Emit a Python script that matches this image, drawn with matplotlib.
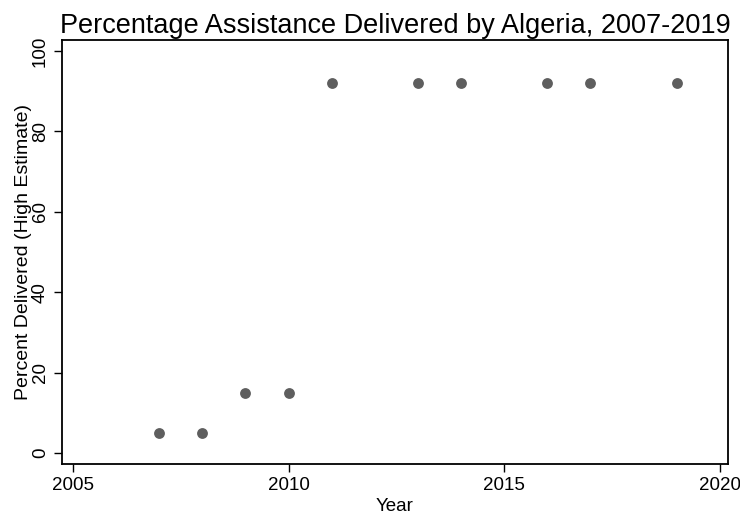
import matplotlib
matplotlib.use("Agg")
import matplotlib.pyplot as plt

years = [2007, 2008, 2009, 2010, 2011, 2013, 2014, 2016, 2017, 2019]
percent_delivered = [5, 5, 15, 15, 92, 92, 92, 92, 92, 92]
x_ticks = [2005, 2010, 2015, 2020]
y_ticks = [0, 20, 40, 60, 80, 100]

plt.rcParams['font.family'] = ['Liberation Sans', 'DejaVu Sans']

fig = plt.figure(figsize=(7.4, 5.2), dpi=100)
ax = fig.add_axes([62 / 740, 56 / 520, (728 - 62) / 740, (464 - 40) / 520])

ax.plot(years, percent_delivered, linestyle='none', marker='o',
        markersize=7.8, color='#5e5e5e', markeredgewidth=0)

ax.set_xlim(2004.745, 2020.19)
ax.set_ylim(-2.7, 102.7)
ax.set_xticks(x_ticks)
ax.set_yticks(y_ticks)
ax.tick_params(axis='both', direction='out', length=6, width=1, labelsize=13.5, color='black')
for lab in ax.get_yticklabels():
    lab.set_rotation(90)
    lab.set_va('center')
for s in ax.spines.values():
    s.set_linewidth(1.3)

ax.set_xlabel('Year', fontsize=13.5, labelpad=3)
ax.set_ylabel('Percent Delivered (High Estimate)', fontsize=14, labelpad=0)
ax.set_title('Percentage Assistance Delivered by Algeria, 2007-2019', fontsize=19.5, pad=5)

fig.savefig('out.png', dpi=100)
